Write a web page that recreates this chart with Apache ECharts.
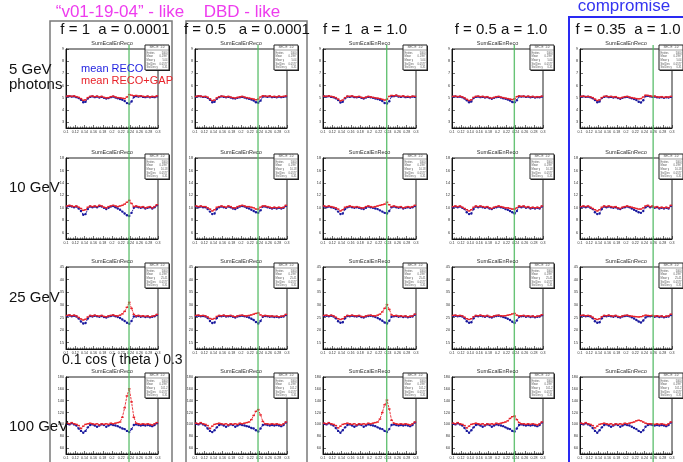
<!DOCTYPE html>
<html>
<head>
<meta charset="utf-8">
<script src="https://cdn.jsdelivr.net/npm/echarts@6/dist/echarts.min.js"></script>
<style>
html, body { margin: 0; padding: 0; background: #fff; }
#main { width: 683px; height: 462px; }
</style>
</head>
<body>
<div id="main"></div>
<script>
// bins of the SumEcalEnReco profiles, cos(theta) from 0.1 to 0.3
var binLo = 0.1, binW = 0.005;

var colTitles = ['f = 1  a = 0.0001', 'f = 0.5   a = 0.0001', 'f = 1  a = 1.0', 'f = 0.5 a = 1.0', 'f = 0.35  a = 1.0'];
var rowLabels = ['5 GeV', '10 GeV', '25 GeV', '100 GeV'];
var yRange = [[2.5, 9], [5, 18], [12.5, 45], [50, 180]];
var yTicks = [[3, 4, 5, 6, 7, 8, 9], [6, 8, 10, 12, 14, 16, 18], [15, 20, 25, 30, 35, 40, 45], [60, 80, 100, 120, 140, 160, 180]];
var xTicks = [0.1, 0.12, 0.14, 0.16, 0.18, 0.2, 0.22, 0.24, 0.26, 0.28, 0.3];
var greenX = [0.237, 0.237, 0.237, 0.237, 0.259];
var meanY = ['5.04', '10.18', '25.41', '101.2'];

// mean RECO (blue) and mean RECO+GAP (red), rows 5/10/25/100 GeV, columns 1..5
var reco5_1 = [5.10,5.12,5.08,5.10,5.04,4.96,4.82,4.62,4.66,4.92,5.06,5.10,5.04,5.08,5.00,5.06,4.98,4.92,4.96,5.04,5.08,5.00,4.94,4.88,4.82,4.72,4.55,4.50,4.68,5.05,5.12,5.08,5.12,5.06,5.04,5.08,5.02,5.06,5.04,5.10];
var gap5_1  = [5.12,5.15,5.10,5.14,5.08,5.02,4.92,4.78,4.82,5.00,5.10,5.13,5.08,5.12,5.05,5.10,5.02,4.98,5.00,5.08,5.12,5.05,5.00,4.98,4.95,4.92,5.05,5.25,5.20,5.15,5.18,5.12,5.15,5.10,5.08,5.12,5.05,5.10,5.08,5.14];
var reco5_2 = [5.08,5.12,5.10,5.06,5.06,4.98,4.82,4.62,4.66,4.90,5.04,5.10,5.06,5.02,5.06,5.00,4.95,4.92,4.98,5.02,5.06,5.00,4.95,4.90,4.84,4.76,4.62,4.58,4.75,5.08,5.10,5.06,5.10,5.04,5.06,5.02,5.08,5.04,5.06,5.10];
var gap5_2  = [5.10,5.14,5.12,5.08,5.10,5.03,4.90,4.76,4.80,4.98,5.08,5.12,5.10,5.06,5.10,5.04,5.00,4.97,5.02,5.06,5.10,5.04,5.00,4.96,4.92,4.88,4.82,4.88,5.05,5.15,5.12,5.10,5.14,5.08,5.10,5.06,5.12,5.08,5.10,5.14];
var reco5_3 = [5.10,5.08,5.12,5.06,5.02,4.94,4.80,4.60,4.65,4.94,5.08,5.06,5.10,5.04,5.02,5.06,4.98,4.92,5.00,5.06,5.02,4.98,4.92,4.88,4.82,4.72,4.56,4.52,4.70,5.10,5.12,5.16,5.08,5.06,5.10,5.04,5.06,5.02,5.08,5.06];
var gap5_3  = [5.12,5.10,5.14,5.10,5.06,5.00,4.88,4.74,4.80,5.00,5.12,5.10,5.14,5.08,5.06,5.10,5.02,4.98,5.04,5.10,5.06,5.02,4.98,4.95,4.92,4.86,4.80,4.86,5.10,5.18,5.15,5.20,5.12,5.10,5.14,5.08,5.10,5.06,5.12,5.10];
var reco5_4 = [5.08,5.10,5.06,5.08,5.02,4.92,4.78,4.62,4.68,4.96,5.06,5.08,5.04,5.06,5.00,5.04,4.96,4.90,4.98,5.04,5.06,5.00,4.94,4.90,4.84,4.76,4.64,4.62,4.78,5.10,5.08,5.10,5.06,5.08,5.02,5.06,5.00,5.04,5.02,5.08];
var gap5_4  = [5.10,5.12,5.08,5.12,5.06,4.98,4.86,4.76,4.82,5.02,5.10,5.12,5.08,5.10,5.04,5.08,5.00,4.96,5.02,5.08,5.10,5.04,5.00,4.96,4.92,4.88,4.84,4.90,5.08,5.14,5.10,5.12,5.08,5.12,5.06,5.10,5.04,5.08,5.06,5.12];
var reco5_5 = [5.08,5.10,5.06,5.08,5.02,4.94,4.80,4.62,4.68,4.96,5.06,5.10,5.04,5.06,5.00,5.04,4.96,4.90,4.98,5.04,5.06,5.00,4.94,4.88,4.80,4.66,4.60,4.78,5.12,5.14,5.10,5.06,5.08,5.02,5.00,5.04,4.98,5.02,5.00,5.06];
var gap5_5  = [5.10,5.12,5.08,5.10,5.06,5.00,4.88,4.76,4.82,5.00,5.10,5.12,5.08,5.10,5.04,5.08,5.00,4.96,5.02,5.08,5.10,5.04,5.00,4.96,4.92,4.90,4.92,5.05,5.20,5.18,5.14,5.10,5.12,5.06,5.04,5.08,5.02,5.06,5.04,5.10];

var reco10_1 = [10.2,10.3,10.2,10.1,10.2,9.9,9.5,8.9,9.0,9.8,10.2,10.1,10.2,10.1,10.3,10.2,10.0,9.8,10.0,10.2,10.3,10.1,9.9,9.7,9.4,9.1,8.8,8.7,9.2,10.0,10.2,10.1,10.0,10.1,9.9,10.0,10.1,9.9,10.1,10.4];
var gap10_1  = [10.3,10.4,10.3,10.2,10.3,10.1,9.9,9.6,9.7,10.1,10.3,10.2,10.3,10.2,10.4,10.3,10.1,10.0,10.2,10.3,10.4,10.3,10.2,10.3,10.4,10.6,10.9,11.2,10.7,10.2,10.3,10.2,10.1,10.2,10.0,10.1,10.2,10.0,10.2,10.5];
var reco10_2 = [10.2,10.1,10.2,10.1,10.1,9.8,9.4,9.0,9.1,9.8,10.1,10.2,10.1,10.0,10.2,10.1,9.9,9.8,10.0,10.2,10.3,10.2,10.0,9.9,9.7,9.5,9.3,9.2,9.6,10.2,10.2,10.1,10.0,9.9,10.0,9.9,10.0,9.9,10.0,10.3];
var gap10_2  = [10.3,10.2,10.3,10.2,10.2,10.0,9.8,9.5,9.7,10.1,10.2,10.3,10.2,10.1,10.3,10.2,10.0,10.0,10.2,10.3,10.4,10.3,10.2,10.2,10.1,10.0,9.8,9.8,10.1,10.3,10.3,10.2,10.1,10.0,10.1,10.0,10.1,10.0,10.1,10.4];
var reco10_3 = [10.2,10.1,10.2,10.1,10.0,9.8,9.4,9.0,9.1,9.8,10.1,10.2,10.1,10.0,10.1,10.0,9.9,9.8,10.0,10.2,10.1,10.0,9.9,9.8,9.6,9.4,9.2,9.1,9.5,10.1,10.2,10.1,10.0,10.1,9.9,10.0,10.1,10.0,10.1,10.3];
var gap10_3  = [10.3,10.2,10.3,10.2,10.1,10.0,9.8,9.5,9.7,10.1,10.2,10.3,10.2,10.1,10.2,10.1,10.0,10.0,10.2,10.3,10.2,10.1,10.2,10.3,10.4,10.5,10.6,10.9,10.5,10.2,10.3,10.2,10.1,10.2,10.0,10.1,10.2,10.1,10.2,10.4];
var reco10_4 = [10.1,10.2,10.1,10.2,10.0,9.8,9.3,9.0,9.1,9.8,10.2,10.1,10.2,10.1,10.0,10.1,9.9,9.8,10.0,10.1,10.2,10.1,10.0,9.8,9.7,9.5,9.3,9.1,9.5,10.2,10.1,10.2,10.0,10.1,9.9,10.0,9.9,10.0,9.9,10.2];
var gap10_4  = [10.2,10.3,10.2,10.3,10.1,9.9,9.7,9.5,9.7,10.1,10.3,10.2,10.3,10.2,10.1,10.2,10.0,9.9,10.1,10.2,10.3,10.2,10.1,10.0,10.0,9.9,9.8,9.8,10.0,10.3,10.2,10.3,10.1,10.2,10.0,10.1,10.0,10.1,10.0,10.3];
var reco10_5 = [10.1,10.2,10.1,10.2,10.0,9.8,9.3,9.0,9.1,9.8,10.2,10.1,10.2,10.1,10.0,10.1,9.9,9.8,10.0,10.1,10.2,10.1,9.9,9.7,9.5,9.3,9.2,9.5,10.1,10.3,10.1,10.2,10.0,10.1,9.9,10.0,9.9,10.0,9.9,10.3];
var gap10_5  = [10.2,10.3,10.2,10.3,10.1,9.9,9.7,9.5,9.7,10.1,10.3,10.2,10.3,10.2,10.1,10.2,10.0,9.9,10.1,10.2,10.3,10.2,10.1,10.0,9.9,9.8,9.8,10.0,10.3,10.4,10.2,10.3,10.1,10.2,10.0,10.1,10.0,10.1,10.0,10.4];

var reco25_1 = [25.6,25.8,25.5,25.7,25.4,24.6,23.4,22.6,22.8,24.6,25.6,25.4,25.7,25.5,25.3,25.6,25.2,25.0,25.4,25.6,25.8,25.5,25.2,24.8,24.2,23.6,22.9,22.5,23.6,25.4,25.4,25.6,25.3,25.5,25.2,25.4,25.1,25.3,25.5,26.0];
var gap25_1  = [25.8,26.0,25.7,25.9,25.6,25.0,24.4,24.0,24.3,25.2,25.8,25.6,25.9,25.7,25.5,25.8,25.4,25.3,25.6,25.8,26.0,25.7,25.6,25.9,26.4,27.4,29.0,31.0,28.6,26.2,25.6,25.8,25.5,25.7,25.4,25.6,25.3,25.5,25.7,26.2];
var reco25_2 = [25.6,25.7,25.5,25.6,25.4,24.8,23.6,22.8,23.0,24.8,25.6,25.5,25.7,25.4,25.5,25.6,25.3,25.0,25.4,25.6,25.7,25.5,25.3,25.0,24.5,24.0,23.2,22.6,23.6,25.3,25.6,25.5,25.3,25.4,25.2,25.3,25.1,25.3,25.4,26.0];
var gap25_2  = [25.8,25.9,25.7,25.8,25.6,25.2,24.6,24.3,24.6,25.4,25.8,25.7,25.9,25.6,25.7,25.8,25.5,25.3,25.6,25.8,25.9,25.7,25.6,25.8,26.0,26.3,26.6,26.8,26.0,25.6,25.8,25.7,25.5,25.6,25.4,25.5,25.3,25.5,25.6,26.2];
var reco25_3 = [25.6,25.7,25.5,25.7,25.4,24.7,23.5,22.9,23.1,24.7,25.6,25.5,25.7,25.5,25.4,25.6,25.2,25.0,25.4,25.6,25.7,25.5,25.2,24.8,24.3,23.7,23.0,22.6,23.7,25.3,25.5,25.6,25.3,25.5,25.2,25.4,25.1,25.3,25.4,26.1];
var gap25_3  = [25.8,25.9,25.7,25.9,25.6,25.1,24.5,24.2,24.5,25.3,25.8,25.7,25.9,25.7,25.6,25.8,25.4,25.3,25.6,25.8,25.9,25.7,25.6,25.9,26.3,27.2,28.6,30.1,28.2,26.0,25.7,25.8,25.5,25.7,25.4,25.6,25.3,25.5,25.6,26.3];
var reco25_4 = [25.6,25.7,25.5,25.6,25.4,24.7,23.5,22.9,23.1,24.7,25.6,25.5,25.7,25.5,25.3,25.6,25.2,25.0,25.4,25.6,25.7,25.5,25.2,24.9,24.5,24.0,23.3,22.8,23.8,25.3,25.5,25.6,25.3,25.5,25.2,25.4,25.1,25.3,25.4,25.9];
var gap25_4  = [25.8,25.9,25.7,25.8,25.6,25.1,24.5,24.2,24.5,25.3,25.8,25.7,25.9,25.7,25.5,25.8,25.4,25.3,25.6,25.8,25.9,25.7,25.6,25.7,25.9,26.1,26.4,26.6,25.9,25.6,25.7,25.8,25.5,25.7,25.4,25.6,25.3,25.5,25.6,26.1];
var reco25_5 = [25.6,25.7,25.5,25.6,25.4,24.7,23.5,22.9,23.1,24.7,25.6,25.5,25.7,25.5,25.3,25.6,25.2,25.0,25.4,25.6,25.7,25.5,25.1,24.6,24.0,23.4,23.0,23.8,25.0,25.5,25.5,25.6,25.3,25.5,25.2,25.4,25.1,25.3,25.4,26.0];
var gap25_5  = [25.8,25.9,25.7,25.8,25.6,25.1,24.5,24.2,24.5,25.3,25.8,25.7,25.9,25.7,25.5,25.8,25.4,25.3,25.6,25.8,25.9,25.7,25.5,25.4,25.3,25.2,25.3,25.6,25.9,25.8,25.7,25.8,25.5,25.7,25.4,25.6,25.3,25.5,25.6,26.3];

var reco100_1 = [101,100,102,100,98,93,89,86,89,95,99,100,98,96,98,100,99,96,98,100,99,98,97,95,93,92,89,87,92,99,100,99,98,99,98,99,98,97,99,102];
var gap100_1  = [102,101,103,101,100,98,93,97,100,101,102,101,100,101,99,101,100,101,100,102,101,102,103,104,112,128,148,160,138,112,102,101,100,101,100,101,100,99,101,103];
var reco100_2 = [101,100,102,100,98,93,89,87,90,95,99,100,98,96,98,100,99,96,98,100,99,98,97,96,94,93,90,88,93,99,100,99,98,99,98,99,98,97,99,103];
var gap100_2  = [102,101,103,101,100,98,93,97,100,101,102,101,100,101,99,101,100,101,100,102,101,102,103,104,108,115,122,125,116,105,101,101,100,101,100,101,100,99,101,104];
var reco100_3 = [101,100,102,100,98,94,89,86,90,95,99,100,98,96,98,100,99,96,98,100,99,98,97,95,93,92,89,87,92,99,100,99,98,99,98,99,98,97,99,103];
var gap100_3  = [102,101,103,101,100,98,94,97,100,101,102,101,100,101,99,101,100,101,100,102,101,102,103,104,109,120,133,141,126,107,102,101,100,101,100,101,100,99,101,104];
var reco100_4 = [101,100,102,100,98,94,89,86,90,95,99,100,98,96,98,100,99,96,98,100,99,98,97,95,93,92,89,88,93,99,100,99,98,99,98,99,98,97,99,103];
var gap100_4  = [102,101,103,101,100,98,94,97,100,101,102,101,100,101,99,101,100,101,100,102,101,102,103,104,106,110,113,114,108,103,101,101,100,101,100,101,100,99,101,104];
var reco100_5 = [101,100,102,100,98,94,89,86,90,95,99,100,98,96,98,100,99,96,98,100,99,98,96,94,92,89,87,90,96,99,100,99,98,99,98,99,98,97,99,103];
var gap100_5  = [102,101,103,101,100,98,94,97,100,101,102,101,100,101,99,101,100,101,100,102,101,102,103,104,106,107,106,104,102,101,101,101,100,101,100,101,100,99,101,104];

var recoRows = [[reco5_1, reco5_2, reco5_3, reco5_4, reco5_5], [reco10_1, reco10_2, reco10_3, reco10_4, reco10_5],
                [reco25_1, reco25_2, reco25_3, reco25_4, reco25_5], [reco100_1, reco100_2, reco100_3, reco100_4, reco100_5]];
var gapRows = [[gap5_1, gap5_2, gap5_3, gap5_4, gap5_5], [gap10_1, gap10_2, gap10_3, gap10_4, gap10_5],
               [gap25_1, gap25_2, gap25_3, gap25_4, gap25_5], [gap100_1, gap100_2, gap100_3, gap100_4, gap100_5]];

// pad layout on the slide
var colLeft = [66, 195, 323, 452, 580], colW = [92, 92, 93, 91, 92];
var rowTop = [49, 158, 267, 377], rowH = [79, 81, 82, 77];

var FONT = '"Liberation Sans", Arial, sans-serif';
var blueC = '#1a1a9e', redC = '#e8232a';

function toPts(vals) {
    return vals.map(function (v, i) { return [binLo + binW * (i + 0.5), v]; });
}
function txt(x, y, s, size, color, align, z) {
    return { type: 'text', x: x, y: y, z: z || 30,
        style: { text: s, font: size + 'px ' + FONT, fill: color, align: align || 'left', verticalAlign: 'middle' } };
}

var chart = echarts.init(document.getElementById('main'));
var grids = [], xAxes = [], yAxes = [], series = [], gfx = [];
var k = 0;
for (var r = 0; r < 4; r++) {
    for (var c = 0; c < 5; c++) {
        var L = colLeft[c], T = rowTop[r], W = colW[c], H = rowH[r];
        grids.push({ left: L, top: T, width: W, height: H, show: true, backgroundColor: '#fff',
            borderColor: '#222', borderWidth: 1 });
        xAxes.push({ type: 'value', gridIndex: k, min: 0.1, max: 0.3, interval: 0.02,
            axisLine: { onZero: false, lineStyle: { color: '#111', width: 1 } },
            axisTick: { inside: true, length: 3, lineStyle: { color: '#111', width: 0.6 } },
            minorTick: { show: true, splitNumber: 4, length: 1.6, lineStyle: { color: '#111', width: 0.5 } },
            splitLine: { show: false },
            axisLabel: { fontSize: 3.6, margin: 2, color: '#333', fontFamily: FONT,
                customValues: xTicks, formatter: function (v) { return String(+v.toFixed(2)); } } });
        yAxes.push({ type: 'value', gridIndex: k, min: yRange[r][0], max: yRange[r][1],
            axisLine: { show: true, onZero: false, lineStyle: { color: '#111', width: 1 } },
            axisTick: { inside: true, length: 3, customValues: yTicks[r], lineStyle: { color: '#111', width: 0.6 } },
            splitLine: { show: false },
            axisLabel: { fontSize: 3.8, margin: 2, color: '#333', fontFamily: FONT, customValues: yTicks[r] } });
        series.push({ type: 'line', name: 'mean RECO', xAxisIndex: k, yAxisIndex: k, data: toPts(recoRows[r][c]),
            symbol: 'circle', symbolSize: 2.4, showSymbol: true, z: 2,
            itemStyle: { color: blueC }, lineStyle: { color: blueC, width: 0.9, type: [2, 1] } });
        series.push({ type: 'line', name: 'mean RECO+GAP', xAxisIndex: k, yAxisIndex: k, data: toPts(gapRows[r][c]),
            symbol: 'rect', symbolSize: [2.6, 1.4], showSymbol: true, z: 3,
            itemStyle: { color: redC }, lineStyle: { color: redC, width: 0.9, type: [2.5, 1] } });

        // pad title and stats box
        gfx.push(txt(L + W / 2, T - 6, 'SumEcalEnReco', 5.5, '#333', 'center'));
        var bx = L + W - 13, by = T - 4;
        gfx.push({ type: 'rect', z: 40, shape: { x: bx + 1, y: by + 1, width: 24, height: 25 }, style: { fill: '#222' } });
        gfx.push({ type: 'rect', z: 41, shape: { x: bx, y: by, width: 24, height: 25 }, style: { fill: '#fff', stroke: '#222', lineWidth: 1 } });
        gfx.push({ type: 'line', z: 42, shape: { x1: bx, y1: by + 5, x2: bx + 24, y2: by + 5 }, style: { stroke: '#444', lineWidth: 0.5 } });
        gfx.push(txt(bx + 12, by + 2.6, 'SEC E  1.0', 3, '#444', 'center', 43));
        var sl = ['Entries', 'Mean', 'Mean y', 'Std Dev', 'Std Dev y'];
        var sv = ['5000', '0.1997', meanY[r], '0.0577', '0.31'];
        for (var s = 0; s < 5; s++) {
            gfx.push(txt(bx + 1.5, by + 8 + s * 3.6, sl[s], 2.6, '#555', 'left', 43));
            gfx.push(txt(bx + 22.5, by + 8 + s * 3.6, sv[s], 2.6, '#555', 'right', 43));
        }
        k++;
    }
}

chart.setOption({
    animation: false,
    backgroundColor: '#fff',
    grid: grids, xAxis: xAxes, yAxis: yAxes, series: series
});

// green reference lines at fixed cos(theta), one per column, crossing all rows
for (var cc = 0; cc < 5; cc++) {
    var gx = chart.convertToPixel({ xAxisIndex: cc }, greenX[cc]);
    gfx.push({ type: 'line', z: 20, silent: true, shape: { x1: gx, y1: 45, x2: gx, y2: 462 },
        style: { stroke: '#4cb85e', lineWidth: 1.4, opacity: 0.85 } });
}

// column frames
gfx.push({ type: 'rect', z: 25, shape: { x: 50, y: 21, width: 122, height: 460 }, style: { fill: null, stroke: '#7a7a7a', lineWidth: 1.5 } });
gfx.push({ type: 'rect', z: 25, shape: { x: 186, y: 21, width: 121, height: 460 }, style: { fill: null, stroke: '#7a7a7a', lineWidth: 1.5 } });
gfx.push({ type: 'rect', z: 25, shape: { x: 569, y: 17, width: 130, height: 460 }, style: { fill: null, stroke: '#2a2af2', lineWidth: 2 } });

// slide headers
gfx.push(txt(120, 12, '\u201Cv01-19-04\u201D - like', 17, '#ee3cee', 'center'));
gfx.push(txt(242, 12, 'DBD - like', 17, '#ee3cee', 'center'));
gfx.push(txt(624, 6, 'compromise', 17, '#3434f0', 'center'));
var colTitleX = [115, 247, 365, 501, 628];
for (var t = 0; t < 5; t++) gfx.push(txt(colTitleX[t], 30, colTitles[t], 15, '#111', 'center'));

// energy labels
gfx.push(txt(9, 70, rowLabels[0], 15, '#111', 'left'));
gfx.push(txt(9, 85, 'photons', 15, '#111', 'left'));
gfx.push(txt(9, 188, rowLabels[1], 15, '#111', 'left'));
gfx.push(txt(9, 298, rowLabels[2], 15, '#111', 'left'));
gfx.push(txt(9, 427, rowLabels[3], 15, '#111', 'left'));
gfx.push(txt(62, 360, '0.1 cos ( theta ) 0.3', 14, '#111', 'left'));

// legend inside the first pad
gfx.push(txt(81, 69, 'mean RECO', 11, '#2323e0', 'left'));
gfx.push(txt(81, 81, 'mean RECO+GAP', 11, redC, 'left'));

chart.setOption({ graphic: gfx });
</script>
</body>
</html>
